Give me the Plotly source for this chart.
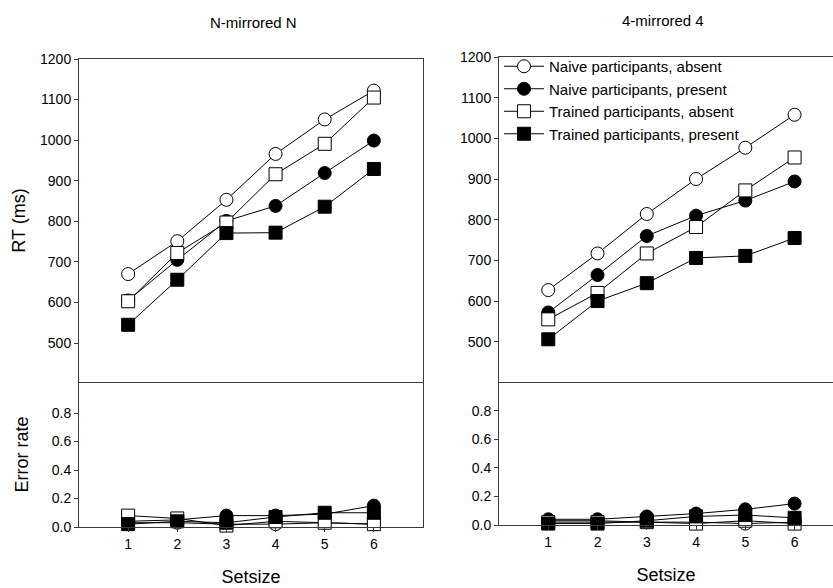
import plotly.graph_objects as go

setsize = [1, 2, 3, 4, 5, 6]
series_names = ["Naive participants, absent", "Naive participants, present",
                "Trained participants, absent", "Trained participants, present"]

# N-mirrored N (left panel)
rt_left_naive_absent = [670, 751, 853, 966, 1051, 1122]
rt_left_naive_present = [605, 705, 801, 838, 919, 999]
rt_left_trained_absent = [603, 722, 797, 916, 991, 1105]
rt_left_trained_present = [545, 656, 771, 772, 836, 929]
err_left_naive_absent = [0.03, 0.03, 0.02, 0.02, 0.03, 0.02]
err_left_naive_present = [0.04, 0.05, 0.08, 0.08, 0.09, 0.15]
err_left_trained_absent = [0.08, 0.06, 0.01, 0.04, 0.03, 0.02]
err_left_trained_present = [0.02, 0.04, 0.03, 0.07, 0.10, 0.10]

# 4-mirrored 4 (right panel)
rt_right_naive_absent = [627, 717, 814, 900, 977, 1058]
rt_right_naive_present = [572, 664, 760, 810, 847, 894]
rt_right_trained_absent = [555, 620, 717, 782, 872, 953]
rt_right_trained_present = [506, 600, 644, 706, 711, 755]
err_right_naive_absent = [0.03, 0.03, 0.02, 0.02, 0.01, 0.02]
err_right_naive_present = [0.04, 0.04, 0.06, 0.08, 0.11, 0.15]
err_right_trained_absent = [0.02, 0.02, 0.02, 0.01, 0.03, 0.01]
err_right_trained_present = [0.01, 0.01, 0.03, 0.06, 0.07, 0.05]

rt_ticks = [500, 600, 700, 800, 900, 1000, 1100, 1200]
err_ticks = [0.0, 0.2, 0.4, 0.6, 0.8]

styles = [
    dict(symbol="circle", color="white"),
    dict(symbol="circle", color="black"),
    dict(symbol="square", color="white"),
    dict(symbol="square", color="black"),
]

FONT = "Arial, 'Liberation Sans', sans-serif"
W, H = 833, 588

fig = go.Figure()

panels = [
    ("x", "y", [rt_left_naive_absent, rt_left_naive_present, rt_left_trained_absent, rt_left_trained_present], False),
    ("x2", "y2", [err_left_naive_absent, err_left_naive_present, err_left_trained_absent, err_left_trained_present], False),
    ("x3", "y3", [rt_right_naive_absent, rt_right_naive_present, rt_right_trained_absent, rt_right_trained_present], True),
    ("x4", "y4", [err_right_naive_absent, err_right_naive_present, err_right_trained_absent, err_right_trained_present], False),
]

for xa, ya, data, showleg in panels:
    for name, vals, st in zip(series_names, data, styles):
        fig.add_trace(go.Scatter(
            x=setsize, y=vals, name=name, mode="lines+markers",
            xaxis=xa, yaxis=ya, showlegend=showleg, cliponaxis=False,
            line=dict(color="black", width=1),
            marker=dict(symbol=st["symbol"], color=st["color"], size=13,
                        line=dict(color="black", width=1)),
        ))

def px_x(p):
    return p / W

def px_y(p):
    return 1 - p / H

axis_common = dict(showgrid=False, zeroline=False, showline=True, linecolor="#3a3a3a",
                   linewidth=1, tickcolor="#3a3a3a", ticklen=4, tickwidth=1,
                   automargin=False,
                   tickfont=dict(family=FONT, size=14, color="black"))

left_dom = [px_x(79), px_x(423)]
right_dom = [px_x(499), 1.0]
top_dom_l = [px_y(382), px_y(59)]
top_dom_r = [px_y(382), px_y(57)]
bot_dom_l = [px_y(527), px_y(382)]
bot_dom_r = [px_y(525), px_y(382)]

title_font = dict(family=FONT, size=18, color="black")

fig.update_layout(
    template="none",
    width=W, height=H,
    margin=dict(l=0, r=0, t=0, b=0, pad=0),
    paper_bgcolor="white", plot_bgcolor="white",
    font=dict(family=FONT, color="black"),
    xaxis=dict(axis_common, domain=left_dom, range=[0, 7], anchor="y", mirror=True,
               showticklabels=False, ticks=""),
    yaxis=dict(axis_common, domain=top_dom_l, range=[404, 1200], anchor="x", mirror=True,
               tickvals=rt_ticks, ticks="outside",
               title=dict(text="RT (ms)", font=title_font, standoff=9)),
    xaxis2=dict(axis_common, domain=left_dom, range=[0, 7], anchor="y2",
                tickvals=setsize, ticks="outside",
                title=dict(text="Setsize", font=title_font, standoff=19)),
    yaxis2=dict(axis_common, domain=bot_dom_l, range=[0, 1.0175], anchor="x2", mirror=True,
                tickvals=err_ticks, tickformat=".1f", ticks="outside",
                title=dict(text="Error rate", font=title_font, standoff=18)),
    xaxis3=dict(axis_common, domain=right_dom, range=[0, 6.78], anchor="y3", mirror=True,
                showticklabels=False, ticks=""),
    yaxis3=dict(axis_common, domain=top_dom_r, range=[401, 1200], anchor="x3",
                tickvals=rt_ticks, ticks="outside"),
    xaxis4=dict(axis_common, domain=right_dom, range=[0, 6.78], anchor="y4",
                tickvals=setsize, ticks="outside",
                title=dict(text="Setsize", font=title_font, standoff=19)),
    yaxis4=dict(axis_common, domain=bot_dom_r, range=[0, 1.003], anchor="x4",
                tickvals=err_ticks, tickformat=".1f", ticks="outside"),
    legend=dict(x=px_x(499), y=px_y(50), xanchor="left", yanchor="top",
                bgcolor="rgba(0,0,0,0)", font=dict(family=FONT, size=15, color="black"),
                tracegroupgap=0, itemwidth=40),
    annotations=[
        dict(text="N-mirrored N", x=px_x(254), y=px_y(22), xref="paper", yref="paper",
             showarrow=False, font=dict(family=FONT, size=15, color="black"),
             xanchor="center", yanchor="middle"),
        dict(text="4-mirrored 4", x=px_x(663), y=px_y(20), xref="paper", yref="paper",
             showarrow=False, font=dict(family=FONT, size=15, color="black"),
             xanchor="center", yanchor="middle"),
    ],
)

fig.write_html("out.html")
